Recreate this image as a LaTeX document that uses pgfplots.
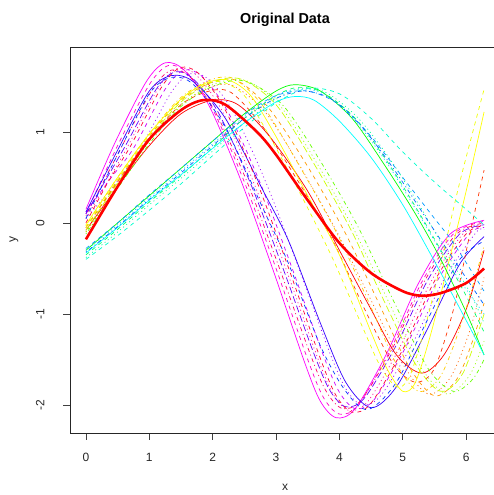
\documentclass[border=0pt]{standalone}
\usepackage{fontspec}
\setmainfont{Liberation Sans}
\usepackage{pgfplots}
\pgfplotsset{compat=1.18}
\tikzset{
  lt1/.style={solid},
  lt2/.style={dash pattern=on 4pt off 4pt},
  lt3/.style={dash pattern=on 1pt off 3pt},
  lt4/.style={dash pattern=on 1pt off 3pt on 4pt off 3pt},
  lt5/.style={dash pattern=on 7pt off 3pt},
}
\begin{document}
\begin{tikzpicture}[x=1pt,y=1pt]
\useasboundingbox (0,0) rectangle (494,495);
\begin{axis}[
  at={(70pt,62pt)}, anchor=south west,
  scale only axis, width=430pt, height=386pt,
  xmin=-0.2513, xmax=6.5345, ymin=-2.308, ymax=1.934,
  xtick={0,1,2,3,4,5,6}, ytick={-2,-1,0,1},
  tick align=outside, tick pos=left, major tick length=7pt,
  every tick/.style={black!75, line width=0.8pt},
  axis line style={black!85, line width=0.8pt},
  /pgf/number format/assume math mode=true,
  tick label style={font=\fontsize{12}{14}\selectfont, color=black!85},
  yticklabel style={rotate=90, anchor=south},
  yticklabel shift=15pt, xticklabel shift=10pt,
  title={\textbf{Original Data}},
  title style={font=\fontsize{14.4}{16}\selectfont, at={(axis description cs:0.5,1)}, anchor=center, yshift=21pt},
  xlabel={x}, ylabel={y},
  label style={font=\fontsize{12}{14}\selectfont, color=black!85},
  xlabel style={at={(axis description cs:0.5,0)}, anchor=center, yshift=-54pt},
  ylabel style={at={(axis description cs:-0.1302,0.5)}, anchor=center},
  no markers, every axis plot/.append style={smooth, line width=0.7pt},
]
% early group
\addplot[color={rgb,255:red,255;green,0;blue,255}, lt1] coordinates {(0,0.15) (0.45,0.87) (0.95,1.55) (1.25,1.76) (1.55,1.68) (1.95,1.28) (2.45,0.46) (2.95,-0.51) (3.45,-1.53) (3.7,-1.96) (3.95,-2.14) (4.25,-2.04) (4.75,-1.43) (5.25,-0.66) (5.75,-0.12) (6.2832,0.03)};
\addplot[color={rgb,255:red,255;green,0;blue,204}, lt2] coordinates {(0,0.1) (0.5,0.85) (1,1.52) (1.3,1.73) (1.6,1.65) (2,1.25) (2.5,0.45) (3,-0.5) (3.5,-1.5) (3.75,-1.92) (4,-2.1) (4.3,-2.0) (4.8,-1.4) (5.3,-0.65) (5.8,-0.12) (6.2832,0.02)};
\addplot[color={rgb,255:red,255;green,0;blue,153}, lt3] coordinates {(0,0.05) (0.65,0.83) (1.15,1.49) (1.45,1.7) (1.75,1.62) (2.15,1.23) (2.65,0.44) (3.15,-0.49) (3.65,-1.47) (3.9,-1.88) (4.15,-2.06) (4.45,-1.96) (4.95,-1.37) (5.45,-0.64) (5.95,-0.12) (6.2832,-0.02)};
\addplot[color={rgb,255:red,255;green,0;blue,102}, lt4] coordinates {(0,0.08) (0.55,0.82) (1.05,1.47) (1.35,1.68) (1.65,1.6) (2.05,1.21) (2.55,0.44) (3.05,-0.49) (3.55,-1.46) (3.8,-1.86) (4.05,-2.04) (4.35,-1.94) (4.85,-1.36) (5.35,-0.63) (5.85,-0.12) (6.2832,0.0)};
\addplot[color={rgb,255:red,204;green,0;blue,255}, lt2] coordinates {(0,0.12) (0.4,0.5) (0.75,0.82) (1.25,1.47) (1.55,1.68) (1.85,1.6) (2.25,1.21) (2.75,0.44) (3.25,-0.49) (3.75,-1.46) (4.0,-1.86) (4.25,-2.04) (4.55,-1.94) (5.05,-1.36) (5.55,-0.63) (6.05,-0.12) (6.2832,-0.05)};
\addplot[color={rgb,255:red,153;green,0;blue,255}, lt3] coordinates {(0,0.05) (0.45,0.42) (0.85,0.81) (1.35,1.44) (1.65,1.64) (1.95,1.57) (2.35,1.19) (2.85,0.43) (3.35,-0.48) (3.85,-1.43) (4.1,-1.82) (4.35,-2.0) (4.65,-1.9) (5.15,-1.33) (5.65,-0.62) (6.15,-0.11) (6.2832,-0.07)};
\addplot[color={rgb,255:red,102;green,0;blue,255}, lt5] coordinates {(0,0.1) (0.6,0.82) (1.1,1.46) (1.4,1.66) (1.7,1.58) (2.1,1.2) (2.6,0.43) (3.1,-0.48) (3.6,-1.44) (3.85,-1.84) (4.1,-2.02) (4.4,-1.92) (4.9,-1.34) (5.4,-0.62) (5.9,-0.12) (6.2832,-0.02)};
\addplot[color={rgb,255:red,51;green,0;blue,255}, lt1] coordinates {(0,0.12) (0.5,0.8) (1.0,1.45) (1.35,1.62) (1.7,1.55) (2.2,1.15) (2.8,0.35) (3.2,-0.2) (3.7,-1.1) (4.1,-1.75) (4.5,-2.03) (4.9,-1.8) (5.4,-1.15) (5.9,-0.45) (6.2832,-0.15)};
\addplot[color={rgb,255:red,0;green,51;blue,255}, lt2] coordinates {(0,0.05) (0.5,0.75) (1.0,1.42) (1.35,1.6) (1.7,1.52) (2.2,1.05) (2.8,0.15) (3.2,-0.45) (3.7,-1.35) (4.1,-1.85) (4.45,-2.05) (4.9,-1.75) (5.4,-1.05) (5.9,-0.4) (6.2832,-0.2)};
\addplot[color={rgb,255:red,255;green,0;blue,51}, lt2] coordinates {(0,0.0) (0.35,0.45) (0.7,0.84) (1.2,1.5) (1.5,1.71) (1.8,1.63) (2.2,1.24) (2.7,0.45) (3.2,-0.5) (3.7,-1.49) (3.95,-1.9) (4.2,-2.08) (4.5,-1.98) (5.0,-1.39) (5.5,-0.64) (6.0,-0.12) (6.2832,-0.03)};
% middle group
\addplot[color={rgb,255:red,255;green,0;blue,0}, lt1] coordinates {(0,-0.08) (0.5,0.4) (1,0.85) (1.5,1.2) (2.0,1.35) (2.4,1.3) (2.9,0.95) (3.5,0.35) (4.0,-0.3) (4.5,-0.95) (4.9,-1.45) (5.3,-1.65) (5.65,-1.45) (6.0,-0.95) (6.2832,-0.3)};
\addplot[color={rgb,255:red,255;green,51;blue,0}, lt2] coordinates {(0,-0.05) (0.5,0.45) (1,0.92) (1.5,1.3) (1.95,1.45) (2.3,1.43) (2.8,1.05) (3.4,0.4) (3.9,-0.2) (4.4,-0.95) (4.85,-1.55) (5.2,-1.75) (5.5,-1.6) (5.8,-0.95) (6.05,-0.15) (6.2832,0.58)};
\addplot[color={rgb,255:red,255;green,102;blue,0}, lt3] coordinates {(0,-0.1) (0.5,0.42) (1,0.9) (1.5,1.3) (2.0,1.5) (2.35,1.5) (2.85,1.2) (3.4,0.6) (4.0,-0.15) (4.5,-0.85) (5.0,-1.55) (5.4,-1.88) (5.75,-1.7) (6.05,-1.2) (6.2832,-0.6)};
\addplot[color={rgb,255:red,255;green,153;blue,0}, lt2] coordinates {(0,-0.05) (0.5,0.46) (1,0.95) (1.5,1.35) (2.0,1.55) (2.4,1.56) (2.9,1.25) (3.5,0.62) (4.1,-0.12) (4.6,-0.85) (5.1,-1.58) (5.5,-1.9) (5.85,-1.72) (6.1,-1.3) (6.2832,-0.88)};
\addplot[color={rgb,255:red,255;green,204;blue,0}, lt4] coordinates {(0,-0.03) (0.5,0.5) (1,0.98) (1.5,1.38) (2.0,1.58) (2.35,1.58) (2.8,1.28) (3.35,0.65) (3.95,-0.1) (4.45,-0.85) (4.9,-1.55) (5.25,-1.85) (5.6,-1.68) (5.95,-1.05) (6.2832,-0.25)};
\addplot[color={rgb,255:red,255;green,255;blue,0}, lt1] coordinates {(0,-0.02) (0.5,0.5) (1,0.98) (1.5,1.36) (1.9,1.54) (2.25,1.57) (2.6,1.4) (3.0,0.95) (3.5,0.3) (4.0,-0.35) (4.5,-1.2) (4.75,-1.6) (5.0,-1.85) (5.2,-1.75) (5.45,-1.2) (5.7,-0.5) (6.0,0.35) (6.2832,1.22)};
\addplot[color={rgb,255:red,238;green,255;blue,0}, lt2] coordinates {(0,-0.05) (0.5,0.48) (1,0.97) (1.5,1.36) (1.85,1.52) (2.15,1.55) (2.5,1.4) (2.9,0.95) (3.4,0.3) (3.9,-0.4) (4.4,-1.2) (4.65,-1.58) (4.9,-1.8) (5.1,-1.7) (5.35,-1.15) (5.6,-0.45) (5.9,0.45) (6.2832,1.47)};
\addplot[color={rgb,255:red,204;green,255;blue,0}, lt5] coordinates {(0,-0.08) (0.5,0.44) (1,0.93) (1.5,1.33) (2.0,1.55) (2.45,1.58) (3.0,1.3) (3.6,0.65) (4.2,-0.1) (4.7,-0.85) (5.2,-1.55) (5.6,-1.85) (5.95,-1.65) (6.2832,-1.0)};
\addplot[color={rgb,255:red,153;green,255;blue,0}, lt3] coordinates {(0,-0.1) (0.5,0.4) (1,0.9) (1.5,1.3) (2.0,1.52) (2.5,1.57) (3.05,1.3) (3.65,0.65) (4.25,-0.1) (4.8,-0.9) (5.3,-1.6) (5.7,-1.88) (6.05,-1.68) (6.2832,-1.3)};
\addplot[color={rgb,255:red,102;green,255;blue,0}, lt4] coordinates {(0,-0.12) (0.5,0.38) (1,0.87) (1.5,1.28) (2.0,1.5) (2.5,1.56) (3.1,1.3) (3.7,0.68) (4.3,-0.05) (4.85,-0.85) (5.4,-1.6) (5.8,-1.85) (6.1,-1.72) (6.2832,-1.5)};
% late group
\addplot[color={rgb,255:red,0;green,255;blue,0}, lt1] coordinates {(0,-0.3) (0.5,0.0) (1,0.3) (1.5,0.6) (2,0.9) (2.5,1.2) (3,1.45) (3.3,1.52) (3.7,1.45) (4.2,1.15) (4.7,0.65) (5.2,0.1) (5.6,-0.4) (6.0,-0.98) (6.2832,-1.45)};
\addplot[color={rgb,255:red,0;green,255;blue,102}, lt2] coordinates {(0,-0.35) (0.5,-0.07) (1,0.23) (1.5,0.52) (2,0.83) (2.5,1.15) (3,1.4) (3.35,1.49) (3.75,1.43) (4.25,1.15) (4.75,0.68) (5.25,0.12) (5.7,-0.42) (6.0,-0.8) (6.2832,-1.2)};
\addplot[color={rgb,255:red,0;green,255;blue,153}, lt3] coordinates {(0,-0.38) (0.5,-0.1) (1,0.2) (1.5,0.49) (2,0.79) (2.5,1.1) (3,1.36) (3.4,1.48) (3.8,1.43) (4.3,1.15) (4.8,0.7) (5.3,0.15) (5.75,-0.4) (6.05,-0.75) (6.2832,-1.1)};
\addplot[color={rgb,255:red,0;green,255;blue,204}, lt2] coordinates {(0,-0.4) (0.5,-0.14) (1,0.14) (1.5,0.43) (2,0.74) (2.5,1.05) (3,1.32) (3.5,1.48) (4,1.42) (4.5,1.15) (5,0.78) (5.5,0.45) (6,0.15) (6.2832,-0.02)};
\addplot[color={rgb,255:red,0;green,255;blue,255}, lt1] coordinates {(0,-0.33) (0.5,-0.05) (1,0.25) (1.5,0.53) (2,0.82) (2.5,1.1) (3,1.33) (3.3,1.39) (3.6,1.35) (4,1.12) (4.5,0.72) (5,0.2) (5.5,-0.42) (6,-1.07) (6.2832,-1.45)};
\addplot[color={rgb,255:red,0;green,204;blue,255}, lt3] coordinates {(0,-0.3) (0.5,-0.02) (1,0.28) (1.5,0.57) (2,0.87) (2.5,1.17) (3,1.4) (3.35,1.47) (3.75,1.42) (4.25,1.12) (4.75,0.66) (5.25,0.1) (5.75,-0.48) (6.2832,-1.0)};
\addplot[color={rgb,255:red,0;green,153;blue,255}, lt2] coordinates {(0,-0.28) (0.5,0.0) (1,0.31) (1.5,0.6) (2,0.9) (2.5,1.19) (3,1.4) (3.5,1.45) (4.0,1.3) (4.5,0.95) (5.0,0.5) (5.5,0.05) (5.8,-0.22) (6.2832,-0.75)};
\addplot[color={rgb,255:red,0;green,102;blue,255}, lt4] coordinates {(0,-0.32) (0.5,-0.04) (1,0.26) (1.5,0.55) (2,0.85) (2.5,1.15) (3,1.37) (3.45,1.45) (3.9,1.35) (4.4,1.02) (4.9,0.55) (5.4,0.02) (5.9,-0.5) (6.2832,-0.9)};
% mean
\addplot[color=red, line width=2.6pt] coordinates {(0,-0.18) (0.5,0.4) (1,0.92) (1.5,1.24) (1.85,1.35) (2.2,1.3) (2.7,1.0) (3.0,0.75) (3.5,0.25) (4.0,-0.22) (4.5,-0.55) (5.0,-0.75) (5.3,-0.8) (5.6,-0.77) (6.0,-0.66) (6.2832,-0.5)};
\end{axis}
\end{tikzpicture}
\end{document}
